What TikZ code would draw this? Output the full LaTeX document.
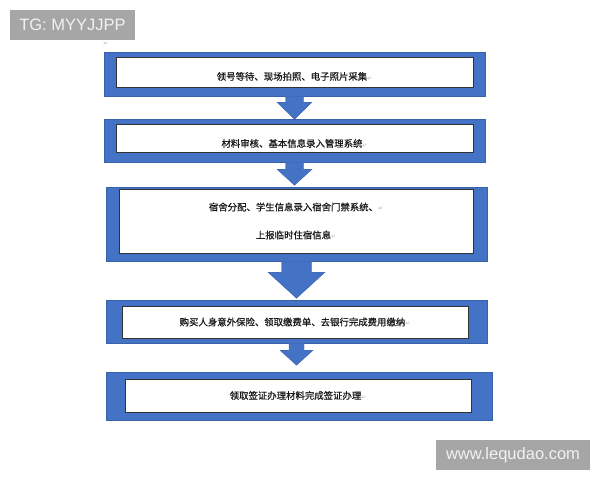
\documentclass[tikz,border=0pt]{standalone}
\usepackage{fontspec}
\usepackage{tikz}
\usetikzlibrary{calc}
\newfontfamily\cjk[FakeBold=0.6]{Noto Sans CJK SC}
\newfontfamily\wmfont{Liberation Sans}
\newfontfamily\markfont{DejaVu Sans}
\definecolor{wordblue}{HTML}{4472C4}
\definecolor{wordedge}{HTML}{3A62A8}
\definecolor{wmgray}{HTML}{A6A6A6}
\newcommand{\retmark}{{\markfont\color{black!30}\fontsize{6}{6}\selectfont ↵}}
\tikzset{
  band/.style = {rectangle, fill=wordblue, draw=wordedge, inner sep=0pt},
  card/.style = {rectangle, fill=white, draw=black!80, line width=0.8pt, inner sep=0pt,
    font=\cjk\fontsize{9.4}{28}\selectfont, text=black!90, align=center},
  flow/.style = {fill=wordblue, draw=wordedge},
  tag/.style = {rectangle, fill=wmgray, inner sep=0pt, text=white!95!black},
}

\begin{document}
\begin{tikzpicture}[x=1pt,y=-1pt]
\useasboundingbox (0,0) rectangle (600,480);
\node[band, minimum width=381, minimum height=44] (b1) at (294.5,74) {};
\node[band, minimum width=381, minimum height=43] (b2) at (294.5,140.5) {};
\node[band, minimum width=381, minimum height=74] (b3) at (296.5,224) {};
\node[band, minimum width=381, minimum height=43] (b4) at (296.5,321.5) {};
\node[band, minimum width=386, minimum height=48] (b5) at (299,396) {};
\node[card, minimum width=357, minimum height=30, text height=16pt, text depth=0pt] (t1) at (294.5,72) {领号等待、现场拍照、电子照片采集\retmark};
\node[card, minimum width=357, minimum height=28, text height=18pt, text depth=0pt] (t2) at (294.5,138) {材料审核、基本信息录入管理系统\retmark};
\node[card, minimum width=354, minimum height=64] (t3) at (296,221) {宿舍分配、学生信息录入宿舍门禁系统、\retmark\\上报临时住宿信息\retmark};
\node[card, minimum width=346, minimum height=32] (t4) at (295,322) {购买人身意外保险、领取缴费单、去银行完成费用缴纳\retmark};
\node[card, minimum width=346, minimum height=33] (t5) at (298,395.5) {领取签证办理材料完成签证办理\retmark};
% block arrows between the steps
\foreach \from/\s/\h/\l/\d in {b1/9/17.5/6/17, b2/9/17.5/7/16, b3/15/28.5/11/26, b4/7.5/16.5/7/15}
  \draw[flow] ($(\from.south)+(-\s,0)$) -- ++(0,\l) -- ++({\s-\h},0) -- ++(\h,\d)
    -- ++(\h,-\d) -- ++({\s-\h},0) -- ++(0,-\l) -- cycle;
\node (m0) at (106,44) {\retmark};
\node[tag, minimum width=125, minimum height=30, font=\wmfont\fontsize{16.5}{16}\selectfont] (tg) at (72.5,25) {TG: MYYJJPP};
\node[tag, minimum width=154, minimum height=30, font=\wmfont\fontsize{16.5}{16}\selectfont] (www) at (513,455) {www.lequdao.com};
\end{tikzpicture}
\end{document}
